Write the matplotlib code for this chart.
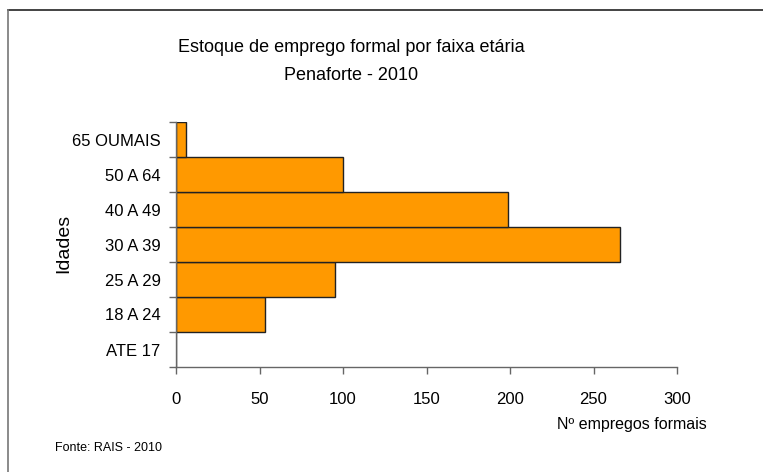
import matplotlib
matplotlib.use("Agg")
import matplotlib.pyplot as plt
from matplotlib.lines import Line2D

categories = ["ATE 17", "18 A 24", "25 A 29", "30 A 39", "40 A 49", "50 A 64", "65 OUMAIS"]
values = [0, 53, 95, 266, 199, 100, 6]
xticks = [0, 50, 100, 150, 200, 250, 300]

plt.rcParams['font.family'] = ['Liberation Sans', 'DejaVu Sans']

fig = plt.figure(figsize=(7.63, 4.72), dpi=100)
ax = fig.add_axes([176/763, 1-367/472, (677-176)/763, (367-122)/472])

ypos = list(range(len(categories)))
ax.barh(ypos, values, height=1.0, color="#FF9900", edgecolor="#222222", linewidth=1.0)

ax.set_xlim(0, 300)
ax.set_ylim(-0.5, len(categories) - 0.5)
ax.set_xticks(xticks)
ax.set_xticklabels([str(t) for t in xticks], fontsize=12)
ax.set_yticks(ypos)
ax.set_yticklabels(categories, fontsize=12)
ax.set_yticks([i - 0.5 for i in range(len(categories) + 1)], minor=True)
ax.tick_params(axis='y', which='major', length=0, pad=11)
ax.tick_params(axis='y', which='minor', length=5, width=1, color="#666666")
ax.tick_params(axis='x', which='major', length=5, width=1, color="#666666", pad=13)

for s in ['top', 'right']:
    ax.spines[s].set_visible(False)
for s in ['left', 'bottom']:
    ax.spines[s].set_color("#666666")
    ax.spines[s].set_linewidth(1)

fig.text(64/763, 1-243/472, "Idades", rotation=90, ha='center', va='center', fontsize=14)
fig.text(632/763, 1-424/472, "Nº empregos formais", ha='center', va='center', fontsize=11.5)
fig.text(351/763, 1-48/472, "Estoque de emprego formal por faixa etária", ha='center', va='center', fontsize=13)
fig.text(351/763, 1-75/472, "Penaforte - 2010", ha='center', va='center', fontsize=13)
fig.text(55/763, 1-448/472, "Fonte: RAIS - 2010", ha='left', va='center', fontsize=9)

# outer frame (only top and left visible in the reference)
fig.lines.append(Line2D([7.5/763, 1.0], [1-10/472, 1-10/472], transform=fig.transFigure,
                        color="#222222", linewidth=1.2))
fig.lines.append(Line2D([7.5/763, 7.5/763], [0.0, 1-10/472], transform=fig.transFigure,
                        color="#777777", linewidth=1.2))

fig.savefig("out.png", dpi=100)
